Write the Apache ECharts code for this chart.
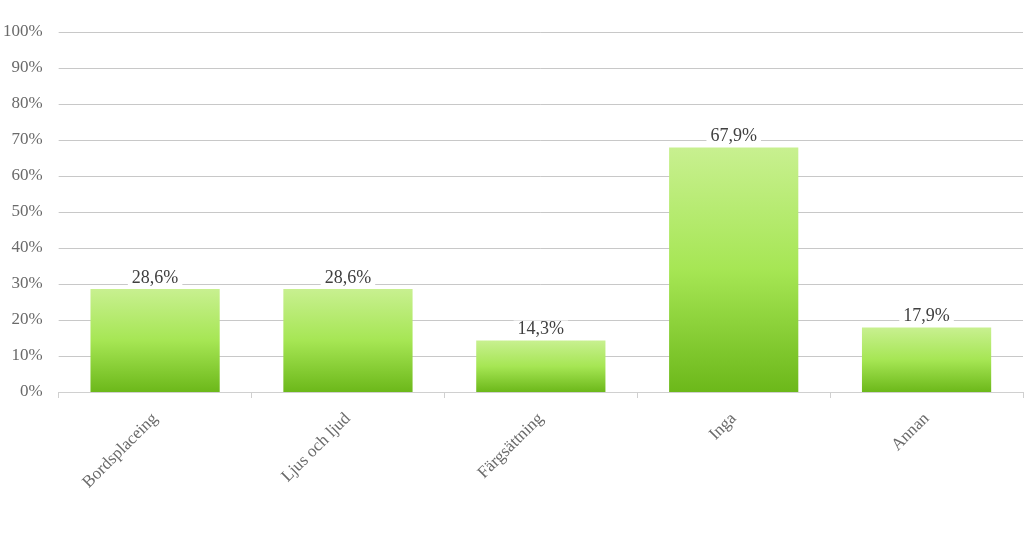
<!DOCTYPE html>
<html>
<head>
<meta charset="utf-8">
<script src="https://cdn.jsdelivr.net/npm/echarts@6/dist/echarts.min.js"></script>
<style>html,body{margin:0;padding:0;background:#fff;}#c{width:1024px;height:558px;}</style>
</head>
<body>
<div id="c"></div>
<script>
const categories = ['Bordsplaceing', 'Ljus och ljud', 'Färgsättning', 'Inga', 'Annan'];
const values = [28.6, 28.6, 14.3, 67.9, 17.9];
const yTicks = [0, 10, 20, 30, 40, 50, 60, 70, 80, 90, 100];

const chart = echarts.init(document.getElementById('c'));
const font = '"Liberation Serif", "Times New Roman", serif';
chart.setOption({
  animation: false,
  grid: { left: 58, right: 1, top: 32, bottom: 166, containLabel: false },
  xAxis: {
    type: 'category',
    data: categories,
    axisLine: { lineStyle: { color: '#d0d0d0' } },
    axisTick: { show: true, alignWithLabel: false, length: 6, lineStyle: { color: '#d0d0d0' } },
    axisLabel: { rotate: 45, color: '#6a6a6a', fontFamily: font, fontSize: 17, margin: 24 }
  },
  yAxis: {
    type: 'value',
    min: yTicks[0], max: yTicks[yTicks.length - 1], interval: 10,
    axisLine: { show: false },
    axisTick: { show: false },
    axisLabel: { color: '#6a6a6a', fontFamily: font, fontSize: 17, margin: 16, padding: [4, 0, 0, 0], formatter: v => v + '%' },
    splitLine: { lineStyle: { color: '#c8c8c8' } }
  },
  series: [{
    type: 'bar',
    data: values,
    barWidth: '67%',
    itemStyle: {
      color: new echarts.graphic.LinearGradient(0, 0, 0, 1, [
        { offset: 0, color: '#c8f090' },
        { offset: 0.5, color: '#a6e654' },
        { offset: 1, color: '#6cb81a' }
      ])
    },
    label: {
      show: true, position: 'top', distance: 2,
      color: '#404040', fontFamily: font, fontSize: 18,
      backgroundColor: '#fff', padding: [0, 4],
      formatter: p => p.value.toFixed(1).replace('.', ',') + '%'
    }
  }]
});
</script>
</body>
</html>
